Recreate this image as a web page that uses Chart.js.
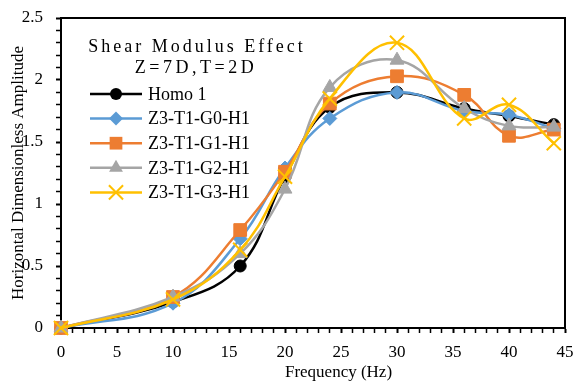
<!DOCTYPE html>
<html>
<head>
<meta charset="utf-8">
<script src="https://cdn.jsdelivr.net/npm/chart.js@4"></script>
<style>
  html, body { margin: 0; padding: 0; background: #fff; }
  #wrap { width: 577px; height: 385px; }
</style>
</head>
<body>
<div id="wrap"><canvas id="shear"></canvas></div>
<script>
// frequency (Hz) and amplitude readings
const freq = [0, 10, 16, 20, 24, 30, 36, 40, 44];
const homo1 = [0, 0.21, 0.5, 1.22, 1.78, 1.9, 1.77, 1.71, 1.64];
const g0h1 = [0, 0.2, 0.72, 1.29, 1.69, 1.9, 1.75, 1.72, 1.61];
const g1h1 = [0, 0.25, 0.79, 1.26, 1.81, 2.03, 1.88, 1.55, 1.6];
const g2h1 = [0, 0.25, 0.6, 1.12, 1.94, 2.16, 1.77, 1.63, 1.62];
const g3h1 = [0, 0.23, 0.63, 1.22, 1.85, 2.3, 1.69, 1.8, 1.49];

const seriesNames = ['Homo 1', 'Z3-T1-G0-H1', 'Z3-T1-G1-H1', 'Z3-T1-G2-H1', 'Z3-T1-G3-H1'];
const legendTitle = ['Shear Modulus Effect', 'Z=7D,T=2D'];
const xLabelEvery = 5;
const yLabelEvery = 0.5;

const serif = "'Liberation Serif', 'Times New Roman', serif";

const styles = [
    { color: '#000000', point: 'circle', radius: 6 },
    { color: '#5B9BD5', point: 'rectRot', radius: 7 },
    { color: '#ED7D31', point: 'rect', radius: 9 },
    { color: '#A5A5A5', point: 'triangle', radius: 8 },
    { color: '#FFC000', point: 'crossRot', radius: 10 }
];

function toPoints(ys) {
    return freq.map((f, i) => ({ x: f, y: ys[i] }));
}

const allSeries = [homo1, g0h1, g1h1, g2h1, g3h1];

const datasets = allSeries.map((ys, i) => ({
    label: seriesNames[i],
    data: toPoints(ys),
    borderColor: styles[i].color,
    backgroundColor: styles[i].color,
    borderWidth: 2.5,
    tension: 0.4,
    pointStyle: styles[i].point,
    pointRadius: styles[i].radius,
    pointHoverRadius: styles[i].radius,
    pointBorderWidth: styles[i].point === 'crossRot' ? 2 : 1,
    clip: false,
    order: allSeries.length - i
}));

// small marker drawer for the legend
function drawMarker(ctx, style, x, y) {
    const r = style.radius;
    ctx.save();
    ctx.fillStyle = style.color;
    ctx.strokeStyle = style.color;
    ctx.beginPath();
    if (style.point === 'circle') {
        ctx.arc(x, y, r, 0, Math.PI * 2);
        ctx.fill();
    } else if (style.point === 'rectRot') {
        ctx.moveTo(x, y - r); ctx.lineTo(x + r, y); ctx.lineTo(x, y + r); ctx.lineTo(x - r, y);
        ctx.closePath(); ctx.fill();
    } else if (style.point === 'rect') {
        const s = r * Math.SQRT1_2;
        ctx.rect(x - s, y - s, 2 * s, 2 * s); ctx.fill();
    } else if (style.point === 'triangle') {
        const w = r * Math.sqrt(3) / 2;
        ctx.moveTo(x, y - r); ctx.lineTo(x + w, y + r / 2); ctx.lineTo(x - w, y + r / 2);
        ctx.closePath(); ctx.fill();
    } else if (style.point === 'crossRot') {
        const s = r * Math.SQRT1_2;
        ctx.lineWidth = 2;
        ctx.moveTo(x - s, y - s); ctx.lineTo(x + s, y + s);
        ctx.moveTo(x + s, y - s); ctx.lineTo(x - s, y + s);
        ctx.stroke();
    }
    ctx.restore();
}

const framePlugin = {
    id: 'frame',
    beforeDatasetsDraw(chart) {
        const { ctx, chartArea: a } = chart;
        ctx.save();
        ctx.strokeStyle = '#000';
        ctx.lineWidth = 2;
        ctx.beginPath();
        ctx.moveTo(a.left, a.top);
        ctx.lineTo(a.right, a.top);
        ctx.lineTo(a.right, a.bottom);
        ctx.stroke();
        ctx.restore();
    }
};

const legendPlugin = {
    id: 'insideLegend',
    afterDatasetsDraw(chart) {
        const ctx = chart.ctx;
        ctx.save();
        ctx.fillStyle = '#000';
        ctx.font = '18px ' + serif;
        ctx.textAlign = 'center';
        ctx.textBaseline = 'alphabetic';
        ctx.letterSpacing = '3px';
        ctx.fillText(legendTitle[0], 197, 52);
        ctx.letterSpacing = '3.5px';
        ctx.fillText(legendTitle[1], 196, 73);
        ctx.letterSpacing = '0px';
        ctx.textAlign = 'left';
        ctx.textBaseline = 'middle';
        seriesNames.forEach((name, i) => {
            const y = 94 + i * 24.6;
            ctx.strokeStyle = styles[i].color;
            ctx.lineWidth = 2.5;
            ctx.beginPath();
            ctx.moveTo(90, y);
            ctx.lineTo(142, y);
            ctx.stroke();
            drawMarker(ctx, styles[i], 116, y);
            ctx.fillStyle = '#000';
            ctx.fillText(name, 148, y + 1);
        });
        ctx.restore();
    }
};

const ctx = document.getElementById('shear').getContext('2d');

new Chart(ctx, {
    type: 'line',
    data: { datasets: datasets },
    plugins: [framePlugin, legendPlugin],
    options: {
        responsive: true,
        maintainAspectRatio: false,
        animation: false,
        layout: { padding: { top: 18, right: 8, left: 0, bottom: 0 } },
        plugins: {
            legend: { display: false },
            tooltip: { enabled: false }
        },
        scales: {
            x: {
                type: 'linear',
                min: 0,
                max: 45,
                afterFit(scale) {
                    scale.height = 57;
                    scale.paddingLeft = 0;
                    scale.paddingRight = 0;
                },
                border: { display: true, color: '#000', width: 2 },
                grid: {
                    drawOnChartArea: false,
                    color: '#000',
                    tickLength: 5,
                    tickWidth: c => (c.tick && c.tick.value % xLabelEvery === 0 ? 2 : 1.5)
                },
                ticks: {
                    stepSize: 1,
                    autoSkip: false,
                    maxRotation: 0,
                    padding: 9,
                    color: '#000',
                    font: { family: serif, size: 17 },
                    callback: v => (v % xLabelEvery === 0 ? String(v) : '')
                },
                title: {
                    display: true,
                    text: '            Frequency (Hz)',
                    color: '#000',
                    font: { family: serif, size: 17 },
                    padding: { top: 0, bottom: 2 }
                }
            },
            y: {
                type: 'linear',
                min: 0,
                max: 2.5,
                afterFit(scale) {
                    scale.width = 61;
                    scale.paddingTop = 0;
                    scale.paddingBottom = 0;
                },
                border: { display: true, color: '#000', width: 2 },
                grid: {
                    drawOnChartArea: false,
                    color: '#000',
                    tickLength: 5,
                    tickWidth: c => (c.tick && Math.round(c.tick.value * 10) % (yLabelEvery * 10) === 0 ? 2 : 1.5)
                },
                ticks: {
                    stepSize: 0.1,
                    autoSkip: false,
                    padding: 13,
                    color: '#000',
                    font: { family: serif, size: 17 },
                    callback: v => {
                        const t = Math.round(v * 10);
                        return t % (yLabelEvery * 10) === 0 ? String(t / 10) : '';
                    }
                },
                title: {
                    display: true,
                    text: 'Horizontal Dimensionless Amplitude',
                    color: '#000',
                    font: { family: serif, size: 17 },
                    padding: { top: 8, bottom: -6 }
                }
            }
        }
    }
});
</script>
</body>
</html>
